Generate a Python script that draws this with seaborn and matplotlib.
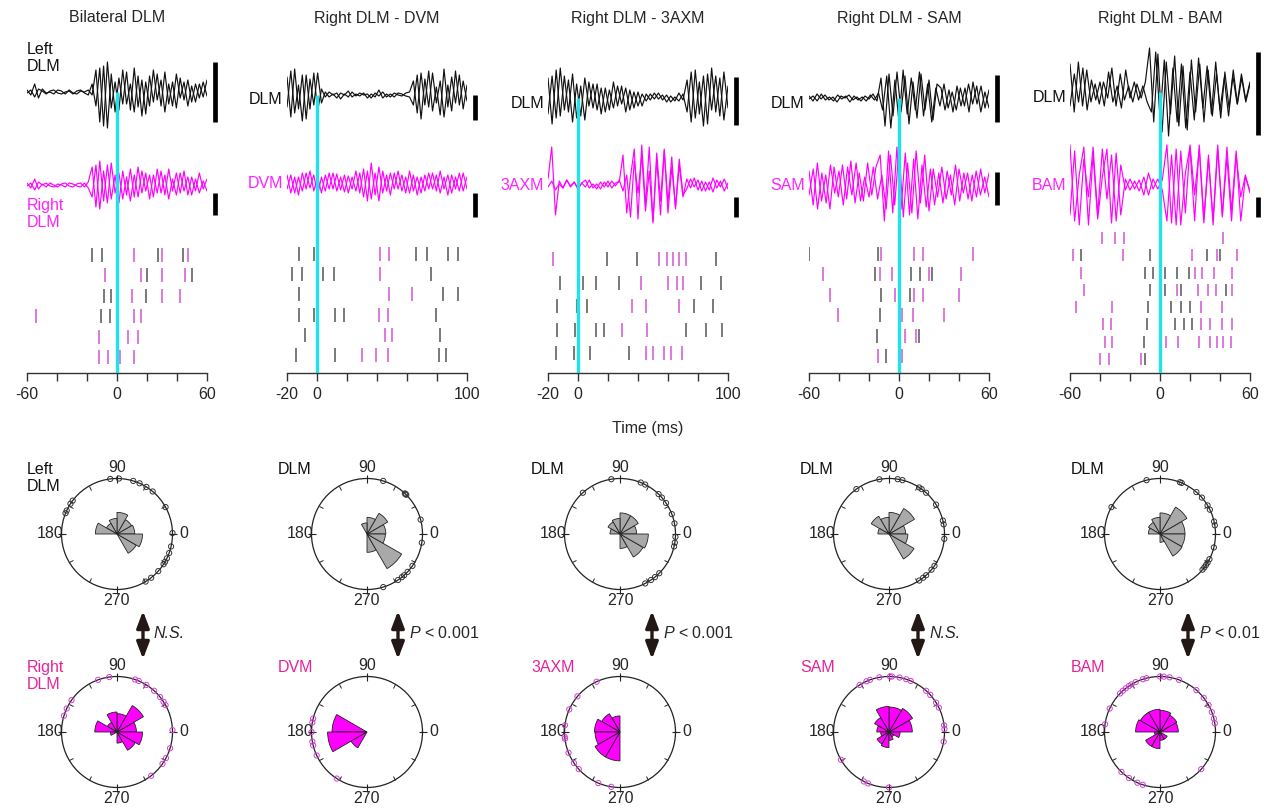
import numpy as np
import matplotlib
matplotlib.use('Agg')
import matplotlib.pyplot as plt
import seaborn as sns

# ---- labels ----
titles = ['Bilateral DLM', 'Right DLM - DVM', 'Right DLM - 3AXM', 'Right DLM - SAM', 'Right DLM - BAM']
ref_names = ['Left\nDLM', 'DLM', 'DLM', 'DLM', 'DLM']
mus_names = ['Right\nDLM', 'DVM', '3AXM', 'SAM', 'BAM']
time_ranges = [(-60, 60), (-20, 100), (-20, 100), (-60, 60), (-60, 60)]
shown_ticks = [[-60, 0, 60], [-20, 0, 100], [-20, 0, 100], [-60, 0, 60], [-60, 0, 60]]
p_texts = ['N.S.', '$P$ < 0.001', '$P$ < 0.001', 'N.S.', '$P$ < 0.01']

# ---- EMG traces (px amplitude), two sweeps per channel ----
dlm_a = [
    [2, -3, 8, -6, 3, -1, 0, -2, 2, 1, -2, 2, -1, -2, 1, 0, 2, -3, 22, -30, 26, -36, 18, -20, 14, -12, 20, -18,
     24, -15, 12, -22, 16, -10, 18, -14, 20, -12, 10, -16, 14, -8, 12, -10, 8, -6, 10, -4],
    [18, -22, 26, -14, 20, -24, 16, -10, 22, -8, 3, -2, 1, -3, 2, 0, 4, -2, 1, -1, 2, -3, 1, -2, 5, -3, 1, -2,
     2, 0, -1, 2, 3, 14, -18, 22, -10, 24, -16, 8, -20, 26, -12, 18, -8, 20, -14, 10],
    [20, -26, 28, -18, 22, -14, 24, -20, 12, -22, 16, -10, 14, -16, 10, -12, 16, -8, 12, -14, 8, -10, 6, -8,
     4, -2, 5, -1, 3, -4, 2, -3, 5, -2, 18, -24, 28, -16, 22, -26, 30, -14, 20, -22, 12],
    [2, -3, 4, -1, 3, -2, 1, -4, 2, 0, 3, -2, 1, -3, 2, -1, 4, -3, 20, -28, 24, -18, 26, -14, 22, -26, 16, -20,
     24, -12, 18, -22, 14, 10, -12, 8, -14, 12, -8, 10, -14, 16, -6, 12, -10, 8],
    [28, -20, 30, -14, 22, -10, 8, -12, 10, -6, 24, -14, 18, -8, 6, -10, 8, -6, 10, 44, -30, 38, -40, 30, -22,
     36, -34, 26, -38, 32, -20, 28, -30, 22, -24, 18, -26, 20, -16, 22, -12, 14, -10, 8],
]
dlm_b = [
    [-1, 2, -5, 3, 1, -2, 1, 2, -1, -2, 0, 1, -2, 1, 2, -1, -3, 8, -14, 24, -34, 30, -16, 10, -18, 22, -12, 8,
     -20, 16, -24, 10, -14, 22, -8, 12, -20, 8, -14, 18, -6, 10, -14, 6, -10, 8, -5, 12],
    [-12, 24, -18, 10, -26, 20, -14, 22, -16, 6, -2, 3, 0, 2, -4, 1, -2, 3, -1, 2, 0, 1, -3, 2, -1, 3, -2, 1,
     -2, 2, 1, -1, -2, -10, 20, -24, 16, -12, 22, -8, 14, -22, 10, -16, 24, -10, 14, -6],
    [-16, 22, -20, 30, -12, 18, -24, 14, -18, 20, -8, 14, -12, 10, -14, 8, -10, 12, -6, 10, -12, 6, -8, 4,
     -3, 4, -1, 5, -2, 3, -4, 1, -3, 4, -14, 26, -20, 16, -28, 24, -12, 22, -18, 26, -10],
    [-1, 2, -3, 4, -2, 1, -3, 3, -1, 2, -4, 2, -2, 1, -3, 3, -2, 5, -12, 22, -30, 18, -24, 28, -16, 20, -12, 26,
     -18, 14, -24, 10, -8, 14, -10, 6, -12, 10, -8, 14, -6, 12, -14, 6, -10],
    [-14, 18, -10, 24, -18, 12, -8, 10, -14, 20, -10, 6, -16, 22, -6, 10, -8, 6, -10, -20, 40, -26, 32, -44, 24,
     -30, 28, -36, 20, -28, 34, -16, 26, -22, 30, -18, 14, -24, 16, -12, 18, -8, 10],
]
mus_a = [
    [2, -3, 6, -4, 1, -2, 2, 0, -2, 1, 2, -1, -2, 1, 2, -2, 3, 18, -22, 24, -16, 20, -14, 10, -18, 14, -10, 16,
     -12, 18, -8, 12, -14, 10, -8, 14, -10, 16, -6, 12, -8, 14, -10, 8, -6, 12, -4, 6],
    [8, -10, 6, -12, 10, -6, 12, -8, 6, -10, 8, -6, 10, -8, 6, -9, 7, -6, 12, -10, 14, -18, 20, -12, 16, -10, 8,
     -12, 10, -6, 8, -10, 12, -8, 6, -10, 8, -6, 10, -8, 12, -6, 8, -10, 6, -8, 10, -6],
    [6, 38, -30, 4, -3, 5, -2, 3, -4, 2, 5, -3, 1, -4, 3, -2, 4, -3, 2, 3, 30, -28, 8, 36, -34, 40, -20, 38,
     -36, 26, -30, 34, -18, 28, -24, 20, -12, 6, -3, 7, -5, 4, -6, 3, -7, 5, -2, 6, -4],
    [14, -20, 22, -16, 10, -24, 18, -12, 20, -14, 24, -18, 12, -16, 22, -10, 18, 30, -36, 34, -28, 38, -24, 32,
     -30, 26, -34, 20, -22, 16, -20, 12, -18, 14, -10, 20, -16, 12, -14, 10, -12, 16, -8, 12],
    [40, -36, 10, 38, -40, 30, -34, 8, 36, -38, 32, -30, 6, -5, 4, -6, 8, -10, 6, -4, 5, 40, -38, 36, -40, 12,
     38, -36, 40, -34, 30, -40, 36, -30, 38, -26, 34, -36, 8, -6],
]
mus_b = [
    [-1, 2, -5, 3, 0, 2, -1, -2, 1, 0, -2, 2, 1, -1, -2, 2, -3, -12, 20, -24, 14, -18, 22, -8, 12, -14, 8, -16,
     10, -12, 14, -6, 10, -12, 16, -8, 10, -14, 6, -10, 12, -6, 8, -10, 6, -8, 4, -6],
    [-6, 8, -10, 6, -8, 10, -5, 8, -12, 6, -8, 10, -6, 9, -7, 8, -10, 6, -8, 10, -14, 12, -16, 10, -18, 12, -8,
     10, -6, 12, -8, 6, -10, 8, -12, 6, -8, 10, -6, 8, -10, 6, -12, 8, -6, 10, -8, 6],
    [-2, 4, -5, 1, -3, 5, -1, 3, -4, 2, -2, 5, -3, 1, -4, 3, -2, 4, -1, 5, -6, 10, -32, 24, -8, 30, -26, 14,
     -38, 32, -16, 36, -28, 18, -22, 26, -10, -4, 6, -2, 5, -6, 3, -5, 7, -3, 4, -6, 2],
    [-10, 16, -24, 12, -18, 20, -8, 14, -20, 18, -10, 22, -16, 8, -12, 18, -14, 10, -24, 30, -20, 36, -32, 22,
     -28, 34, -18, 30, -26, 16, -12, 18, -14, 10, -20, 16, -8, 12, -16, 14, -10, 8, -12],
    [-30, 34, -40, 26, -12, 38, -30, 36, -14, 30, -36, 20, -5, 6, -4, 5, -10, 12, -4, 6, -5, -36, 30, -40, 34,
     -28, 40, -10, 36, -38, 26, -34, 40, -32, 28, -36, 30, -12, 10, -8],
]

# scale bars (image y top, bottom)
dlm_bar = [(62, 122), (95, 120), (77, 125), (75, 122), (52, 135)]
mus_bar = [(193, 215), (193, 217), (197, 217), (172, 205), (197, 217)]

# ---- raster spike times (ms), one list per sweep ----
ras_gray = [
    [[-17, -10, 0, 27, 44], [20, 50], [-9, -4, 19], [-11, -5], [], []],
    [[-12, -2, 66, 73, 87, 94], [-17, -10, 4, 11, 76], [-12, 84, 94], [-12, -2, 12, 18, 79], [-8, 82],
     [-14, 12, 81, 86]],
    [[19, 39, 92], [-12, 3, 12, 27, 82, 95], [-14, -1, 6, 77, 90], [-14, -2, 12, 17, 72, 85, 96], [-15, -3, 8, 34]],
    [[-60, -14], [-16, 8, 14, 22], [-12, 7], [-13], [-15, 13], [-9]],
    [[], [-53, -7, 31, 40], [-10, -5, 3, 11, 19], [-7, 3, 14, 44], [-8, 7, 14, 20], [-9, 10, 16, 21], [-11], [-10]],
]
ras_mag = [
    [[11, 30, 47], [-8, 16, 30, 45], [10, 30, 42], [-54, 11, 16], [-12, 7, 14], [-12, -6, 2, 11]],
    [[42, 48], [42], [48, 63], [41, 47], [45, 50], [30, 39, 47]],
    [[-17, 54, 59, 63, 67, 72], [42, 60, 66, 70], [36, 45, 67], [29, 46], [45, 50, 57, 62, 69]],
    [[-12, 10, 16, 49], [-51, -13, -5, 20, 41], [-46, -3, 10, 16, 40], [-41, 2, 9, 30], [4, 11], [-14, 2]],
    [[-39, -30, -24, 42], [-58, -25, 21, 38, 51], [-53, 23, 28, 36, 48], [-51, 11, 25, 32, 37, 48],
     [-56, -32, 27, 41], [-38, -33, 27, 33, 41, 48], [-37, -32, 4, 12, 26, 33, 38, 42, 47], [-40, -34, -13]],
]

# ---- phase histograms (12 bins of 30 deg, fraction of radius) and unit phases (deg) ----
rose_dlm = [
    [0.32, 0.30, 0.39, 0.28, 0.22, 0.39, 0, 0, 0, 0, 0.40, 0.46],
    [0.34, 0.43, 0.30, 0.20, 0, 0, 0, 0, 0, 0.33, 0.72, 0.33],
    [0.30, 0.38, 0.38, 0.28, 0.25, 0.18, 0, 0, 0, 0.26, 0.48, 0.51],
    [0.30, 0.53, 0.39, 0.30, 0.37, 0.20, 0, 0, 0, 0, 0.52, 0.34],
    [0.45, 0.56, 0.38, 0.30, 0.24, 0.21, 0, 0, 0, 0.15, 0.46, 0.45],
]
rose_mus = [
    [0.35, 0.55, 0.33, 0.36, 0.20, 0.40, 0.12, 0, 0, 0.20, 0.38, 0.46],
    [0, 0, 0, 0, 0, 0.63, 0.71, 0.33, 0, 0, 0, 0],
    [0, 0, 0, 0.29, 0.38, 0.46, 0.45, 0.52, 0.52, 0, 0, 0],
    [0.42, 0.49, 0.45, 0.46, 0.30, 0.22, 0.15, 0.25, 0.28, 0.15, 0.10, 0.20],
    [0.33, 0.35, 0.39, 0.41, 0.41, 0.44, 0.10, 0.30, 0.30, 0.15, 0.15, 0],
]
rim_dlm = [
    [97, 88, 73, 66, 58, 50, 29, 1, -13, -20, -26, -30, -33, -42, -52, -59, 143, 147, 155, 158],
    [73, 47, 46, 45, 15, -9, -35, -43, -48, -51, -56, -73],
    [99, 132, 68, 63, 46, 41, 34, 21, 11, -3, -9, -13, -45, -51, -56, -63],
    [100, 126, 81, 76, 57, 54, 48, 32, 14, 10, -5, -35, -40, -48, -52, -57],
    [104, 151, 69, 67, 49, 41, 31, 26, 13, 9, -14, -27, -31, -34, -37, -40],
]
rim_mus = [
    [98, 110, 71, 67, 58, 48, 39, 33, 29, 2, -17, -28, -35, -52, 145, 155, 163],
    [166, 170, 180, 190, 194, 205, 237],
    [115, 140, 156, 173, 185, 187, 202, 214, 222, 247, 261],
    [122, 114, 110, 100, 89, 87, 79, 72, 67, 48, 42, 32, 26, 7, 3, -10, 210, 243, 248, 270],
    [136, 132, 128, 124, 121, 116, 108, 104, 90, 86, 80, 70, 49, 38, 29, 21, 14, 9, 155, 172, 226, 236, 246,
     252, -42],
]

# ---- layout (pixels) ----
W, H = 1275, 810
col_left = [27, 287, 548, 809, 1070]
col_w = 180
top_y, axis_y = 40, 373
dlm_base = [92, 95, 98, 98, 92]
mus_base = [185, 183, 185, 185, 185]
ras_top = [255, 254, 259, 254, 238]
ras_bot = [357, 355, 353, 356, 359]
pol_cx = [117, 367, 620, 889, 1160]
pol_top, pol_bot, R = 534, 732, 55.5
arrow_x = [143, 398, 652, 918, 1188]

BLACK = '#111111'
MAG = '#ff00ff'
MAG_TXT = '#ff22ff'
MAG_TXT2 = '#e5249a'
CYAN = '#1fe3ea'

sns.set_theme(style='white')
plt.rcParams['font.family'] = ['Liberation Sans', 'DejaVu Sans']
plt.rcParams['mathtext.fontset'] = 'custom'
plt.rcParams['mathtext.it'] = 'Liberation Sans:italic'
plt.rcParams['mathtext.rm'] = 'Liberation Sans'


def px_rect(x, y, w, h):
    return [x / W, 1 - (y + h) / H, w / W, h / H]


fig = plt.figure(figsize=(W / 100, H / 100), dpi=100)

for i in range(5):
    t0, t1 = time_ranges[i]
    ax = fig.add_axes(px_rect(col_left[i], top_y, col_w, axis_y - top_y))
    ax.set_facecolor('none')
    ax.set_xlim(t0, t1)
    ax.set_ylim(0, axis_y - top_y)

    for vals, color, base in [(dlm_a[i], BLACK, dlm_base[i]), (dlm_b[i], BLACK, dlm_base[i]),
                              (mus_a[i], MAG, mus_base[i]), (mus_b[i], MAG, mus_base[i])]:
        v = np.array(vals, dtype=float)
        t = np.linspace(t0, t1, len(v))
        sns.lineplot(x=t, y=axis_y - base + v, ax=ax, color=color, lw=0.85,
                     estimator=None, sort=False)

    # raster
    ys = np.linspace(ras_top[i], ras_bot[i], len(ras_gray[i]))
    half = 7 if len(ys) < 8 else 6
    for r, yy in enumerate(ys):
        yd = axis_y - yy
        if ras_gray[i][r]:
            ax.vlines(ras_gray[i][r], yd - half, yd + half, colors='#555555', lw=1.1)
        if ras_mag[i][r]:
            ax.vlines(ras_mag[i][r], yd - half, yd + half, colors='#d455d4', lw=1.1)

    # stimulus line
    ax.plot([0, 0], [0, axis_y - dlm_base[i]], color=CYAN, lw=2.4, zorder=6, solid_capstyle='butt')

    # scale bars
    xb = t1 + 8 * (t1 - t0) / col_w
    for (ya, yb) in [dlm_bar[i], mus_bar[i]]:
        ax.plot([xb, xb], [axis_y - yb, axis_y - ya], color='black', lw=3.4,
                solid_capstyle='butt', clip_on=False)

    ticks = np.arange(t0, t1 + 1, 20)
    ax.set_xticks(ticks)
    ax.set_xticklabels([str(int(t)) if t in shown_ticks[i] else '' for t in ticks])
    ax.set_yticks([])
    for s in ['left', 'top', 'right']:
        ax.spines[s].set_visible(False)
    ax.spines['bottom'].set_color('#333333')
    ax.spines['bottom'].set_linewidth(1.0)
    ax.tick_params(axis='x', direction='out', length=6, width=1, color='#333333',
                   labelsize=11.5, pad=4, bottom=True)
    ax.set_xlabel('')
    ax.set_ylabel('')

    # phase roses
    for cy, bins, rim, face, rim_col in [(pol_top, rose_dlm[i], rim_dlm[i], '#a9a9a9', '#333333'),
                                         (pol_bot, rose_mus[i], rim_mus[i], MAG, '#d040d0')]:
        pa = fig.add_axes(px_rect(pol_cx[i] - R, cy - R, 2 * R, 2 * R), projection='polar')
        pa.set_facecolor('none')
        centers = np.deg2rad(np.arange(15, 360, 30))
        pa.bar(centers, bins, width=np.deg2rad(30), color=face, edgecolor='#222222', lw=0.6)
        pa.scatter(np.deg2rad(rim), np.ones(len(rim)), s=14, facecolors='none',
                   edgecolors=rim_col, linewidths=0.7, clip_on=False, zorder=5)
        pa.set_ylim(0, 1)
        pa.set_yticks([])
        pa.grid(False)
        pa.set_xticks(np.deg2rad([0, 90, 180, 270]))
        pa.set_xticklabels(['0', '90', '180', '270'])
        pa.set_xticks(np.deg2rad([30, 60, 120, 150, 210, 240, 300, 330]), minor=True)
        pa.tick_params(axis='x', which='major', direction='inout', length=3, width=0.8,
                       labelsize=11.5, pad=-0.5, bottom=False, top=True, color='#222222')
        pa.tick_params(axis='x', which='minor', direction='in', length=3, width=0.7,
                       bottom=False, top=True, color='#222222')
        pa.spines['polar'].set_linewidth(0.9)
        pa.spines['polar'].set_color('#222222')

# ---- overlay text and arrows ----
ov = fig.add_axes([0, 0, 1, 1])
ov.set_facecolor('none')
ov.set_xlim(0, W)
ov.set_ylim(H, 0)
ov.axis('off')

for i in range(5):
    cx = col_left[i] + col_w / 2
    ov.text(cx, 18, titles[i], ha='center', va='center', fontsize=11.5)
    if i == 0:
        ov.text(27, 58, ref_names[i], ha='left', va='center', fontsize=11.5, linespacing=1.1, color=BLACK)
        ov.text(27, 214, mus_names[i], ha='left', va='center', fontsize=11.5, linespacing=1.1, color=MAG_TXT)
        ov.text(27, 478, ref_names[i], ha='left', va='center', fontsize=11.5, linespacing=1.1, color=BLACK)
        ov.text(27, 676, mus_names[i], ha='left', va='center', fontsize=11.5, linespacing=1.1, color=MAG_TXT2)
    else:
        ov.text(col_left[i] - 4, dlm_base[i] + 5, ref_names[i], ha='right', va='center', fontsize=11.5,
                color=BLACK)
        ov.text(col_left[i] - 4, mus_base[i], mus_names[i], ha='right', va='center', fontsize=11.5,
                color=MAG_TXT)
        ov.text(pol_cx[i] - 89, 470, ref_names[i], ha='left', va='center', fontsize=11.5, color=BLACK)
        ov.text(pol_cx[i] - 89, 667, mus_names[i], ha='left', va='center', fontsize=11.5, color=MAG_TXT2)

    ov.annotate('', xy=(arrow_x[i], 611), xytext=(arrow_x[i], 659),
                arrowprops=dict(arrowstyle='<|-|>,head_length=1.0,head_width=0.38', color='#231815',
                                lw=2.4, shrinkA=0, shrinkB=0, mutation_scale=10))
    style = 'italic' if p_texts[i] == 'N.S.' else 'normal'
    ov.text(arrow_x[i] + 11, 633, p_texts[i], ha='left', va='center', fontsize=11.5, style=style)

ov.text(648, 428, 'Time (ms)', ha='center', va='center', fontsize=11.5)

fig.savefig('out.png', dpi=100)
